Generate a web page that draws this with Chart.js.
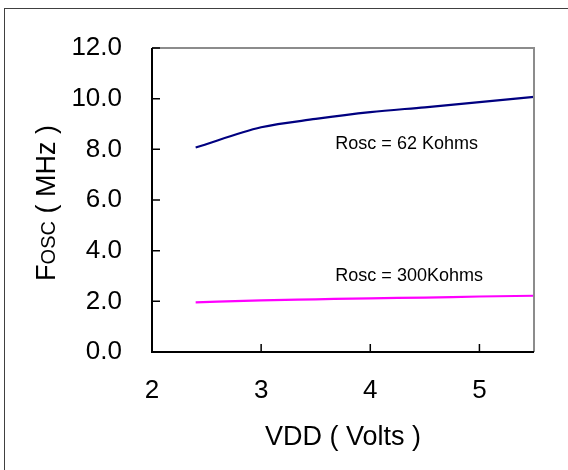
<!DOCTYPE html>
<html>
<head>
<meta charset="utf-8">
<script src="https://cdn.jsdelivr.net/npm/chart.js@4"></script>
<style>
  html, body { margin: 0; padding: 0; background: #fff; }
  canvas { display: block; }
</style>
</head>
<body>
<canvas id="oscChart" width="568" height="470"></canvas>
<script>
// Dados
const vdd = [2.4, 3.0, 3.5, 4.0, 4.5, 5.0, 5.5];
const fosc62k = [8.07, 8.87, 9.2, 9.47, 9.66, 9.86, 10.07];
const fosc300k = [1.96, 2.04, 2.08, 2.12, 2.15, 2.19, 2.22];
const xTicks = [2, 3, 4, 5];
const yTicks = [0, 2, 4, 6, 8, 10, 12];
const notes = [
    { text: 'Rosc = 62 Kohms', x: 3.68, y: 8.21 },
    { text: 'Rosc = 300Kohms', x: 3.68, y: 2.98 }
];

const FONT = "'Liberation Sans', Arial, sans-serif";

// Moldura, marcas internas, anotações e títulos
const decor = {
    id: 'decor',
    beforeDraw(chart) {
        const ctx = chart.ctx;
        ctx.save();
        ctx.fillStyle = '#fff';
        ctx.fillRect(0, 0, chart.width, chart.height);
        ctx.strokeStyle = '#404040';
        ctx.lineWidth = 1;
        ctx.strokeRect(4.5, 8.5, 700, 700);
        ctx.restore();
    },
    afterDatasetsDraw(chart) {
        const ctx = chart.ctx;
        const a = chart.chartArea;
        const xs = chart.scales.x, ys = chart.scales.y;
        ctx.save();

        // lados superior e direito em cinza
        ctx.strokeStyle = '#8c8c8c';
        ctx.lineWidth = 2;
        ctx.beginPath();
        ctx.moveTo(a.left, a.top);
        ctx.lineTo(a.right, a.top);
        ctx.lineTo(a.right, a.bottom);
        ctx.stroke();

        // lados esquerdo e inferior em preto
        ctx.strokeStyle = '#000';
        ctx.beginPath();
        ctx.moveTo(a.left, a.top);
        ctx.lineTo(a.left, a.bottom);
        ctx.lineTo(a.right, a.bottom);
        ctx.stroke();

        // marcas voltadas para dentro
        ctx.lineWidth = 1.5;
        ctx.beginPath();
        yTicks.forEach(v => {
            const py = ys.getPixelForValue(v);
            ctx.moveTo(a.left, py);
            ctx.lineTo(a.left + 8, py);
        });
        xTicks.forEach(v => {
            const px = xs.getPixelForValue(v);
            ctx.moveTo(px, a.bottom);
            ctx.lineTo(px, a.bottom - 8);
        });
        ctx.stroke();

        // anotações
        ctx.fillStyle = '#000';
        ctx.font = '18px ' + FONT;
        ctx.textAlign = 'left';
        ctx.textBaseline = 'middle';
        notes.forEach(n => {
            ctx.fillText(n.text, xs.getPixelForValue(n.x), ys.getPixelForValue(n.y));
        });

        // título do eixo X
        ctx.font = '27px ' + FONT;
        ctx.textAlign = 'center';
        ctx.textBaseline = 'alphabetic';
        ctx.fillText('VDD ( Volts )', (a.left + a.right) / 2, 445);

        // título do eixo Y (OSC em versalete)
        const parts = [
            { t: 'F', f: '27px ' + FONT },
            { t: 'OSC', f: '20px ' + FONT },
            { t: ' ( MHz )', f: '27px ' + FONT }
        ];
        let total = 0;
        parts.forEach(p => { ctx.font = p.f; p.w = ctx.measureText(p.t).width; total += p.w; });
        ctx.translate(55, 203);
        ctx.rotate(-Math.PI / 2);
        ctx.textAlign = 'left';
        let cx = -total / 2;
        parts.forEach(p => {
            ctx.font = p.f;
            ctx.fillText(p.t, cx, 0);
            cx += p.w;
        });
        ctx.restore();
    }
};

const ctx = document.getElementById('oscChart');
new Chart(ctx, {
    type: 'line',
    data: {
        datasets: [
            {
                label: 'Rosc = 62 Kohms',
                data: vdd.map((v, i) => ({ x: v, y: fosc62k[i] })),
                borderColor: '#000080',
                borderWidth: 2.2,
                pointRadius: 0,
                cubicInterpolationMode: 'monotone',
                fill: false
            },
            {
                label: 'Rosc = 300Kohms',
                data: vdd.map((v, i) => ({ x: v, y: fosc300k[i] })),
                borderColor: '#ff00ff',
                borderWidth: 2.2,
                pointRadius: 0,
                cubicInterpolationMode: 'monotone',
                fill: false
            }
        ]
    },
    options: {
        responsive: false,
        animation: false,
        devicePixelRatio: 1,
        layout: { padding: { left: 0, top: 48, right: 34, bottom: 0 } },
        plugins: {
            legend: { display: false },
            tooltip: { enabled: false }
        },
        scales: {
            x: {
                type: 'linear',
                min: 2,
                max: 5.5,
                afterBuildTicks: function(scale) {
                    scale.ticks = xTicks.map(v => ({ value: v }));
                },
                afterFit: function(scale) { scale.height = 118; },
                grid: { display: false, drawTicks: false },
                border: { display: false },
                ticks: {
                    padding: 23,
                    color: '#000',
                    font: { family: FONT, size: 26 },
                    maxRotation: 0
                }
            },
            y: {
                type: 'linear',
                min: 0,
                max: 12,
                afterBuildTicks: function(scale) {
                    scale.ticks = yTicks.map(v => ({ value: v }));
                },
                afterFit: function(scale) { scale.width = 152; },
                grid: { display: false, drawTicks: false },
                border: { display: false },
                ticks: {
                    padding: 30,
                    color: '#000',
                    font: { family: FONT, size: 26 },
                    callback: function(value) { return value.toFixed(1); }
                }
            }
        }
    },
    plugins: [decor]
});
</script>
</body>
</html>
